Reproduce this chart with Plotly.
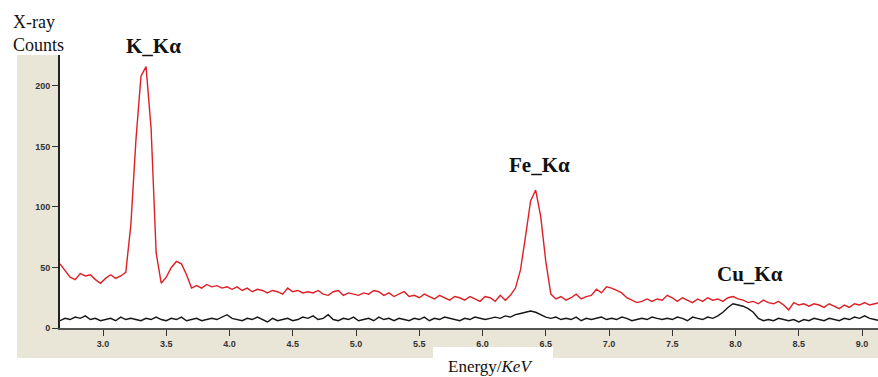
import numpy as np
import plotly.graph_objects as go

# Energy channels (keV), 0.04 keV bins
energy = np.round(2.66 + 0.04 * np.arange(163), 2)

# Red spectrum (X-ray counts)
red_counts = [
    53, 47, 42, 40, 45, 43, 44, 40, 37, 41,
    44, 41, 43, 46, 85, 155, 208, 216, 165, 62,
    37, 42, 50, 55, 53, 44, 33, 35, 33, 36,
    34, 35, 33, 34, 32, 34, 31, 33, 30, 32,
    31, 29, 31, 30, 28, 33, 30, 31, 29, 30,
    29, 31, 28, 27, 30, 31, 27, 29, 28, 27,
    29, 28, 31, 30, 27, 29, 26, 28, 30, 26,
    27, 25, 28, 26, 24, 27, 25, 23, 26, 25,
    23, 26, 24, 22, 26, 25, 22, 27, 23, 27,
    33, 48, 76, 105, 114, 92, 55, 28, 24, 26,
    23, 25, 28, 24, 26, 27, 32, 29, 34, 33,
    31, 29, 25, 23, 21, 22, 24, 22, 24, 23,
    27, 25, 22, 25, 23, 21, 24, 22, 25, 23,
    24, 22, 25, 26, 24, 23, 21, 22, 20, 23,
    21, 20, 22, 19, 15, 21, 19, 20, 18, 20,
    19, 17, 20, 18, 16, 19, 17, 20, 19, 21,
    19, 20, 21,
]

# Black spectrum (X-ray counts)
black_counts = [
    6, 8, 7, 9, 8, 10, 7, 8, 6, 7,
    8, 6, 9, 7, 8, 7, 6, 8, 7, 9,
    7, 6, 8, 7, 9, 6, 7, 8, 6, 7,
    8, 7, 9, 11, 8, 7, 6, 8, 7, 9,
    7, 5, 8, 6, 7, 8, 6, 7, 9, 8,
    10, 7, 8, 11, 7, 6, 8, 7, 9, 6,
    7, 8, 6, 9, 7, 8, 6, 8, 7, 6,
    8, 7, 9, 6, 8, 7, 9, 8, 7, 6,
    8, 7, 9, 8, 7, 8, 9, 8, 10, 9,
    11, 12, 13, 14, 13, 11, 9, 8, 9, 7,
    8, 7, 9, 6, 8, 7, 8, 9, 7, 8,
    7, 9, 8, 6, 7, 8, 7, 9, 8, 7,
    8, 7, 9, 8, 6, 9, 8, 7, 9, 8,
    10, 13, 17, 20, 19, 18, 16, 13, 8, 6,
    7, 6, 8, 7, 6, 7, 5, 7, 6, 8,
    7, 6, 8, 7, 6, 8, 7, 9, 8, 10,
    8, 7, 6,
]

x_ticks = [3.0, 3.5, 4.0, 4.5, 5.0, 5.5, 6.0, 6.5, 7.0, 7.5, 8.0, 8.5, 9.0]
y_ticks = [0, 50, 100, 150, 200]
peak_labels = ["K_Kα", "Fe_Kα", "Cu_Kα"]

W, H = 878, 377
L, R, T, B = 60, 0, 55, 49
PW, PH = W - L - R, H - T - B


def xp(px):
    return (px - L) / PW


def yp(py):
    return (H - B - py) / PH


fig = go.Figure()
fig.add_trace(go.Scatter(x=energy, y=black_counts, mode="lines",
                         line=dict(color="#151515", width=1.4), showlegend=False))
fig.add_trace(go.Scatter(x=energy, y=red_counts, mode="lines",
                         line=dict(color="#dd1f26", width=1.4), showlegend=False))

beige = "#e9e6d7"
shapes = [
    dict(type="rect", xref="paper", yref="paper", x0=xp(17), x1=xp(60), y0=yp(358), y1=yp(55),
         fillcolor=beige, line_width=0, layer="below"),
    dict(type="rect", xref="paper", yref="paper", x0=xp(60), x1=xp(878), y0=yp(358), y1=yp(329),
         fillcolor=beige, line_width=0, layer="below"),
    dict(type="rect", xref="paper", yref="paper", x0=xp(433), x1=xp(553), y0=yp(377), y1=yp(347),
         fillcolor="white", line_width=0, layer="below"),
]

serif = "Liberation Serif, Times New Roman, serif"
annotations = [
    dict(text="X-ray", x=xp(11), y=yp(22), xanchor="left", yanchor="middle",
         font=dict(family=serif, size=18, color="#111")),
    dict(text="Counts", x=xp(11), y=yp(45), xanchor="left", yanchor="middle",
         font=dict(family=serif, size=18, color="#111")),
    dict(text="<b>" + peak_labels[0] + "</b>", x=xp(153), y=yp(46), xanchor="center", yanchor="middle",
         font=dict(family=serif, size=21, color="#111")),
    dict(text="<b>" + peak_labels[1] + "</b>", x=xp(539), y=yp(165), xanchor="center", yanchor="middle",
         font=dict(family=serif, size=21, color="#111")),
    dict(text="<b>" + peak_labels[2] + "</b>", x=xp(750), y=yp(274), xanchor="center", yanchor="middle",
         font=dict(family=serif, size=21, color="#111")),
    dict(text="Energy/<i>KeV</i>", x=xp(490), y=yp(366), xanchor="center", yanchor="middle",
         font=dict(family=serif, size=17, color="#111")),
]
for a in annotations:
    a.update(xref="paper", yref="paper", showarrow=False)

tickfont = dict(family="Arial, Liberation Sans, sans-serif", size=9, color="#333", weight="bold")

fig.update_layout(
    width=W, height=H,
    margin=dict(l=L, r=R, t=T, b=B, pad=0),
    paper_bgcolor="white", plot_bgcolor="white",
    shapes=shapes, annotations=annotations,
    xaxis=dict(range=[2.66, 9.126], tickvals=x_ticks, tickformat=".1f",
               ticks="outside", ticklen=6, tickcolor="#333", tickwidth=1,
               showline=True, linecolor="#555", linewidth=2,
               showgrid=False, zeroline=False, tickfont=tickfont),
    yaxis=dict(range=[0, 225.6], tickvals=y_ticks,
               ticks="outside", ticklen=6, tickcolor="#333", tickwidth=1,
               showline=True, linecolor="#222", linewidth=2,
               showgrid=False, zeroline=False, tickfont=tickfont),
)

fig.write_html("out.html")
